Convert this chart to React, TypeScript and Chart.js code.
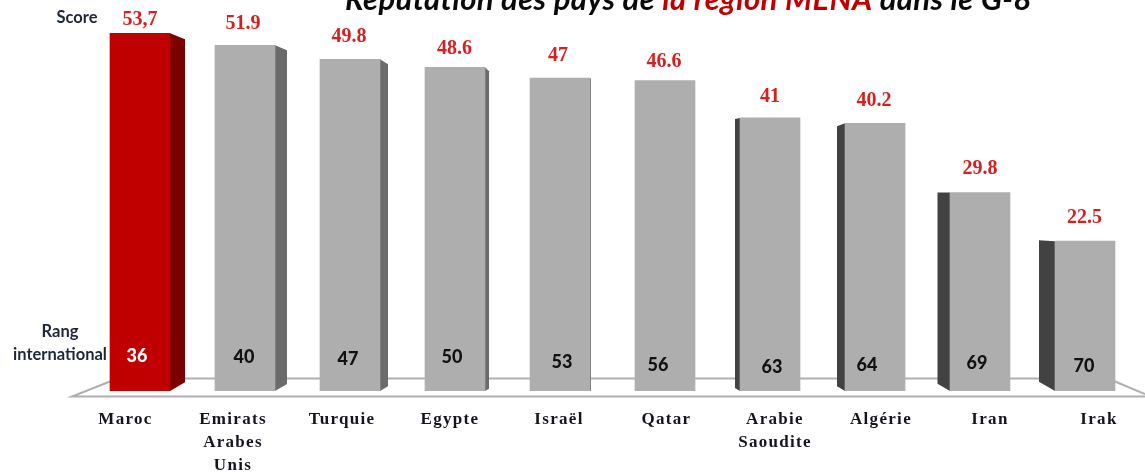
import React, { useEffect, useRef } from "react";
import { Chart, registerables } from "chart.js";

Chart.register(...registerables);

// ---- data ----
const categories = [
  ["Maroc"],
  ["Emirats", "Arabes", "Unis"],
  ["Turquie"],
  ["Egypte"],
  ["Israël"],
  ["Qatar"],
  ["Arabie", "Saoudite"],
  ["Algérie"],
  ["Iran"],
  ["Irak"],
];
const scores = [53.7, 51.9, 49.8, 48.6, 47, 46.6, 41, 40.2, 29.8, 22.5];
const scoreLabels = ["53,7", "51.9", "49.8", "48.6", "47", "46.6", "41", "40.2", "29.8", "22.5"];
const ranks = [36, 40, 47, 50, 53, 56, 63, 64, 69, 70];

const titleParts = [
  { text: "Réputation des pays de ", color: "#0a0a0a" },
  { text: "la région MENA", color: "#c00000" },
  { text: " dans le G-8", color: "#0a0a0a" },
];

// ---- drawing details (not data) ----
const sideDepth = [15, 12, 8, 4, 1, 0, -5, -8, -12.5, -16];
const topDrop = [6, 5, 5, 4, 1, 0, 1, 3, 0, -1];
const labelNudgeX = [-14.5, -12, -8, -5, -1, 1.5, 5, 6, 10, 14];
const scoreNudgeX = [0, -2, -1, -0.5, -2, -1, 0, -1, 0, -0.5];
const scoreCenterY = [20, 24, 37, 49, 56, 62, 97, 101, 169, 218];
const rankX = [137, 244, 348, 452, 562, 658, 772, 867, 977, 1084];
const rankY = [356, 357, 359, 357, 362, 365, 367, 365, 363, 366];

const RED = "#c00000";
const GREY = "#aeaeae";

const scenePlugin = {
  id: "scene",
  beforeDraw(chart: any) {
    (chart.ctx as any).letterSpacing = "1.3px";
  },
  beforeDatasetsDraw(chart: any) {
    const ctx = chart.ctx;
    const bars = chart.getDatasetMeta(0).data;
    ctx.save();
    // floor
    ctx.strokeStyle = "#b0b0b0";
    ctx.lineWidth = 2;
    ctx.beginPath();
    ctx.moveTo(110, 378.5);
    ctx.lineTo(1115, 378.5);
    ctx.stroke();
    ctx.beginPath();
    ctx.moveTo(110, 381.5);
    ctx.lineTo(72, 396.5);
    ctx.lineTo(1145, 396.5);
    ctx.stroke();
    ctx.beginPath();
    ctx.moveTo(1115, 381.5);
    ctx.lineTo(1145, 394);
    ctx.stroke();
    // side faces
    bars.forEach((bar: any, i: number) => {
      const w = sideDepth[i];
      if (w === 0) return;
      const half = bar.width / 2;
      const edge = w > 0 ? bar.x + half : bar.x - half;
      ctx.fillStyle = i === 0 ? "#7b0000" : w > 0 ? "#6b6b6b" : "#424242";
      ctx.beginPath();
      ctx.moveTo(edge, bar.y);
      ctx.lineTo(edge + w, bar.y + topDrop[i]);
      ctx.lineTo(edge + w, bar.base - Math.abs(w) * 0.58);
      ctx.lineTo(edge, bar.base);
      ctx.closePath();
      ctx.fill();
    });
    ctx.restore();
  },
  afterDraw(chart: any) {
    const ctx = chart.ctx;
    const bars = chart.getDatasetMeta(0).data;
    ctx.save();
    ctx.letterSpacing = "0px";
    ctx.textBaseline = "middle";
    ctx.textAlign = "center";
    // score values
    ctx.font = 'bold 20px "Liberation Serif"';
    ctx.fillStyle = "#d81e1e";
    bars.forEach((bar: any, i: number) => {
      ctx.fillText(scoreLabels[i], bar.x + scoreNudgeX[i], scoreCenterY[i]);
    });
    // international ranks
    ctx.font = '900 18px Lato';
    bars.forEach((_: any, i: number) => {
      ctx.fillStyle = i === 0 ? "#ffffff" : "#111111";
      ctx.fillText(String(ranks[i]), rankX[i], rankY[i]);
    });
    // side captions
    ctx.font = 'bold 16.5px Lato';
    ctx.fillStyle = "#1d2738";
    ctx.fillText("Score", 77, 18);
    ctx.fillText("Rang", 60, 332);
    ctx.fillText("international", 60, 355);
    // title, cut by the top of the picture
    ctx.textAlign = "left";
    ctx.textBaseline = "alphabetic";
    ctx.font = 'italic bold 31px Lato';
    ctx.letterSpacing = "0.36px";
    let x = 345;
    titleParts.forEach((p) => {
      ctx.fillStyle = p.color;
      ctx.fillText(p.text, x, 10);
      x += ctx.measureText(p.text).width;
    });
    ctx.restore();
  },
};

export default function App() {
  const ref = useRef<HTMLCanvasElement>(null);
  useEffect(() => {
    const chart = new Chart(ref.current!, {
      type: "bar",
      plugins: [scenePlugin],
      data: {
        labels: categories as any,
        datasets: [
          {
            data: scores,
            backgroundColor: scores.map((_, i) => (i === 0 ? RED : GREY)),
            borderWidth: 0,
            barThickness: 60,
          },
        ],
      },
      options: {
        animation: false,
        responsive: false,
        layout: { padding: { left: 87.5, right: 7.5, top: 24.7, bottom: 0 } },
        plugins: { legend: { display: false }, title: { display: false }, tooltip: { enabled: false } },
        scales: {
          y: { display: false, min: 0, max: 55 },
          x: {
            grid: { display: false, drawTicks: false },
            border: { display: false },
            ticks: {
              autoSkip: false,
              maxRotation: 0,
              minRotation: 0,
              padding: 17,
              color: "#14141e",
              font: { family: '"Liberation Serif"', size: 17, weight: "bold", lineHeight: 1.35 },
            },
            afterFit(scale: any) {
              scale.height = 81;
              if (!scale.__nudged) {
                scale.__nudged = true;
                const base = scale.getPixelForTick.bind(scale);
                scale.getPixelForTick = (i: number) => base(i) + labelNudgeX[i];
              }
            },
          },
        },
      } as any,
    });
    return () => chart.destroy();
  }, []);
  return (
    <div style={{ position: "absolute", left: 0, top: 0, width: 1145, height: 472, background: "#fff" }}>
      <canvas ref={ref} width={1145} height={472} style={{ display: "block" }} />
    </div>
  );
}
